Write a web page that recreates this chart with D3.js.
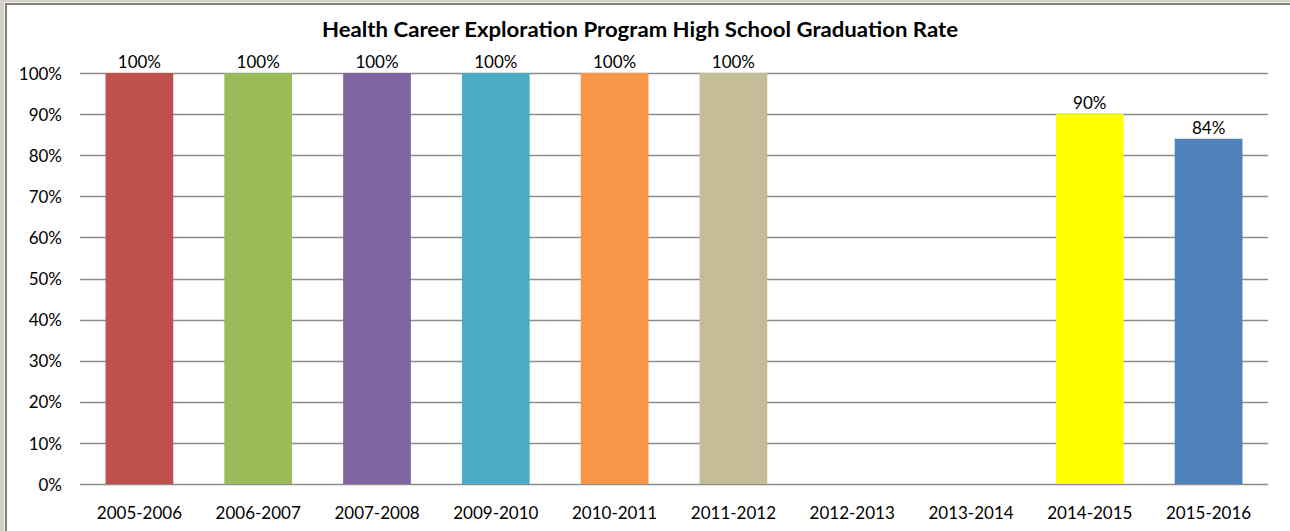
<!DOCTYPE html>
<html>
<head>
<meta charset="utf-8">
<script src="https://cdn.jsdelivr.net/npm/d3@7"></script>
<style>
  html, body { margin: 0; padding: 0; background: #d4d0c8; overflow: hidden; }
  svg { display: block; }
</style>
</head>
<body>
<div id="chart"></div>
<script>
const title = "Health Career Exploration Program High School Graduation Rate";
const years = ["2005-2006", "2006-2007", "2007-2008", "2009-2010", "2010-2011",
  "2011-2012", "2012-2013", "2013-2014", "2014-2015", "2015-2016"];
const rates = [1.00, 1.00, 1.00, 1.00, 1.00, 1.00, null, null, 0.90, 0.84];
const barColors = ["#c0504d", "#9bbb59", "#8064a2", "#4bacc6", "#f79646",
  "#c4bd97", "#8c8c8c", "#8c8c8c", "#ffff00", "#4f81bd"];
const yTicks = [0, 0.1, 0.2, 0.3, 0.4, 0.5, 0.6, 0.7, 0.8, 0.9, 1.0];

function renderBarChart(containerSelector) {
  const W = 1290, H = 531;
  const margin = { top: 73, right: 22, bottom: 47, left: 80 };
  const width = W - margin.left - margin.right;
  const height = H - margin.top - margin.bottom;
  const font = "Lato, 'Open Sans', sans-serif";

  d3.select(containerSelector).html("");

  const root = d3.select(containerSelector).append("svg")
    .attr("width", W)
    .attr("height", H);

  // white chart area with the window edge on top and left only
  root.append("rect")
    .attr("x", 7).attr("y", 5)
    .attr("width", W - 7).attr("height", H - 5)
    .attr("fill", "#ffffff");
  root.append("path")
    .attr("d", `M4.5,${H} V2.5 H${W}`)
    .attr("fill", "none")
    .attr("stroke", "#f4f2ee");
  root.append("path")
    .attr("d", `M6,${H} V4 H${W}`)
    .attr("fill", "none")
    .attr("stroke", "#808080")
    .attr("stroke-width", 2);

  root.append("text")
    .attr("x", 640)
    .attr("y", 37)
    .attr("text-anchor", "middle")
    .attr("textLength", 636)
    .attr("lengthAdjust", "spacingAndGlyphs")
    .style("font-family", font)
    .style("font-weight", "bold")
    .style("font-size", "20px")
    .attr("fill", "#000")
    .text(title);

  const svg = root.append("g")
    .attr("transform", `translate(${margin.left},${margin.top})`);

  const x = d3.scaleBand()
    .domain(years)
    .range([0, width])
    .paddingInner(0.43)
    .paddingOuter(0.215);

  const y = d3.scaleLinear()
    .domain([0, 1])
    .range([height, 0]);

  // gridlines
  svg.append("g")
    .selectAll("line")
    .data(yTicks)
    .enter().append("line")
    .attr("x1", 0)
    .attr("x2", width)
    .attr("y1", d => Math.round(y(d)) + 0.5)
    .attr("y2", d => Math.round(y(d)) + 0.5)
    .attr("stroke", "#8c8c8c")
    .attr("stroke-width", 1.5);

  // y axis labels
  const yAxis = svg.append("g")
    .attr("transform", "translate(-18,0)")
    .call(d3.axisLeft(y).tickValues(yTicks).tickFormat(d3.format(".0%")).tickSize(0));
  yAxis.select(".domain").remove();
  yAxis.selectAll("text")
    .attr("x", 0)
    .attr("dy", "0.36em")
    .style("font-family", font)
    .style("font-size", "17px")
    .attr("fill", "#000");

  // x axis labels
  const xAxis = svg.append("g")
    .attr("transform", `translate(0,${height})`)
    .call(d3.axisBottom(x).tickSize(0));
  xAxis.select(".domain").remove();
  xAxis.selectAll("text")
    .attr("y", 35)
    .attr("dy", 0)
    .style("font-family", font)
    .style("font-size", "17px")
    .attr("fill", "#000");

  const rows = years.map((yr, i) => ({ year: yr, value: rates[i], color: barColors[i] }))
    .filter(d => d.value != null);

  svg.selectAll(".bar")
    .data(rows)
    .enter().append("rect")
    .attr("class", "bar")
    .attr("x", d => x(d.year))
    .attr("y", d => y(d.value))
    .attr("width", x.bandwidth())
    .attr("height", d => height - y(d.value))
    .attr("fill", d => d.color);

  svg.selectAll(".label")
    .data(rows)
    .enter().append("text")
    .attr("class", "label")
    .attr("x", d => x(d.year) + x.bandwidth() / 2)
    .attr("y", d => y(d.value) - 5)
    .attr("text-anchor", "middle")
    .style("font-family", font)
    .style("font-size", "17px")
    .attr("fill", "#000")
    .text(d => d3.format(".0%")(d.value));
}

renderBarChart("#chart");
</script>
</body>
</html>
